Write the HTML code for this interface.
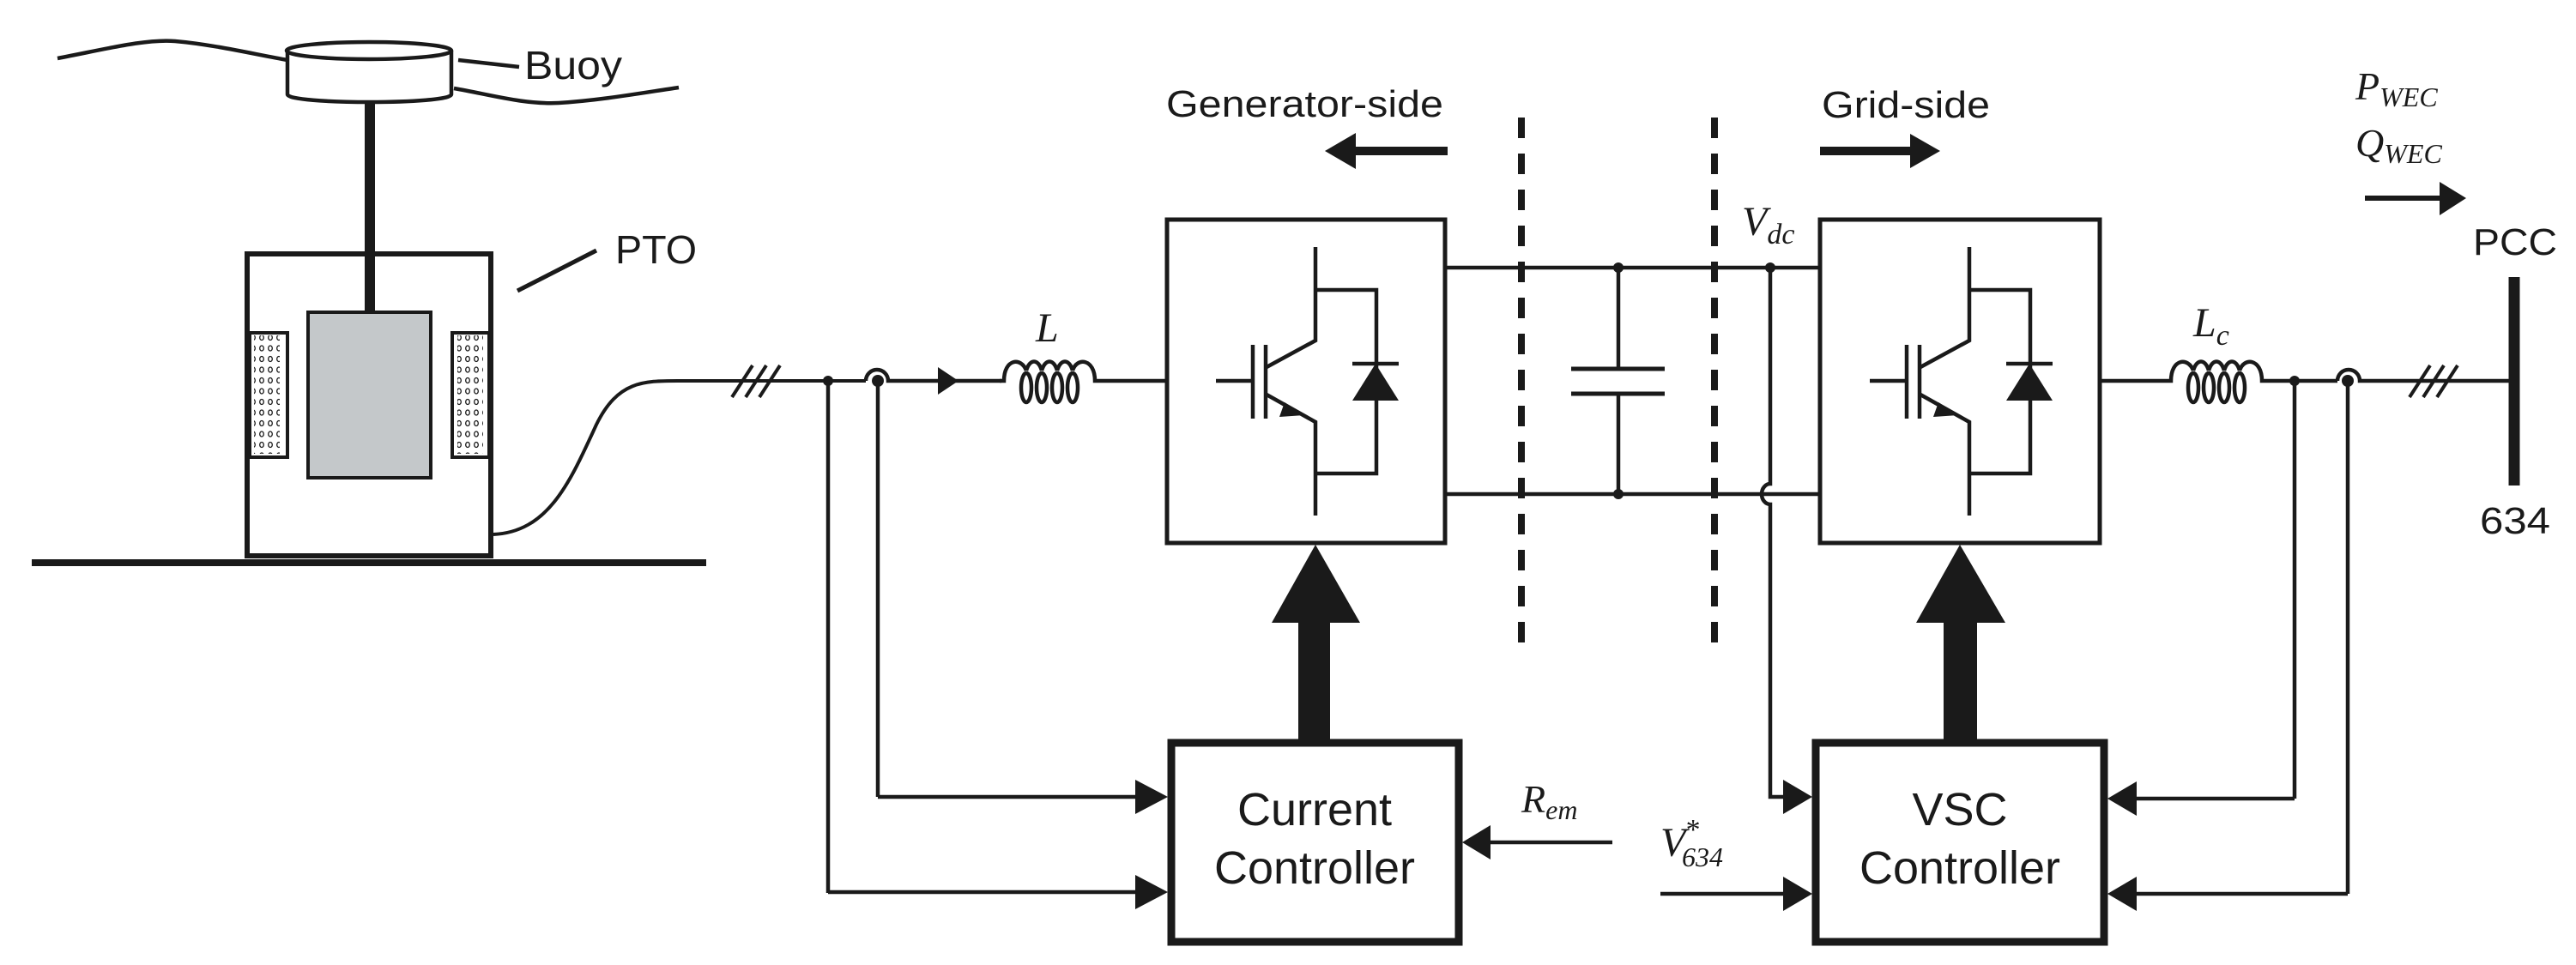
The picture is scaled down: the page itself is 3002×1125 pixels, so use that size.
<!DOCTYPE html>
<html><head><meta charset="utf-8"><style>
html,body{margin:0;padding:0;background:#fff}
svg{display:block}
text{font-family:"Liberation Sans",sans-serif;fill:#1a1a1a}
.m{font-family:"Liberation Serif",serif;font-style:italic}
</style></head><body>
<svg width="3002" height="1125" viewBox="0 0 3002 1125" xmlns="http://www.w3.org/2000/svg">
<defs>
<pattern id="pd" x="0" y="0" width="10" height="12.5" patternUnits="userSpaceOnUse"><ellipse cx="5" cy="6" rx="2.3" ry="3" fill="none" stroke="#1a1a1a" stroke-width="1.3"/></pattern>
</defs>
<g stroke="#1a1a1a" fill="none" stroke-width="4.5">
<path d="M67,68 C120,58 170,45 204,48 C250,52 300,64 335,70"/>
<path d="M529,103 C570,110 610,122 651,120 C700,117 750,108 791,102"/>
<path d="M335,59 L335,110 C335,122 526,122 526,110 L526,59" fill="#fff"/>
<ellipse cx="430" cy="59" rx="96" ry="10" fill="#fff"/>
<line x1="534" y1="70" x2="605" y2="78"/>
<line x1="431" y1="120" x2="431" y2="365" stroke-width="12"/>
<rect x="288" y="296" width="284" height="352" stroke-width="6"/>
<line x1="603" y1="339" x2="695" y2="292" stroke-width="5"/>
<rect x="359" y="364" width="143" height="193" fill="#c4c8ca" stroke-width="4"/>
<rect x="291" y="388" width="44" height="145" stroke-width="4"/>
<rect x="527" y="388" width="43" height="145" stroke-width="4"/>
<line x1="37" y1="656" x2="823" y2="656" stroke-width="8"/>
<path d="M575,623 C640,620 665,560 695,495 C720,444 750,444 790,444 L1009,444" stroke-width="4"/>
<g stroke-width="4"><line x1="853" y1="463" x2="877" y2="426"/><line x1="869" y1="463" x2="893" y2="426"/><line x1="885" y1="463" x2="909" y2="426"/></g>
<path d="M1009,444 A13,13 0 0 1 1035,444 L1167,444"/>
<line x1="965" y1="444" x2="965" y2="1041"/>
<line x1="965" y1="1040" x2="1330" y2="1040"/>
<line x1="1023" y1="444" x2="1023" y2="929"/>
<line x1="1023" y1="929" x2="1330" y2="929"/>
<path d="M1165,444 L1170,444 C1170,418 1190,416 1196,432 M1196,432 C1200,418 1210,418 1214,432 M1214,432 C1218,418 1228,418 1232,432 M1232,432 C1236,418 1246,418 1250,432 M1250,432 C1255,416 1276,418 1276,444 L1360,444"/>
<ellipse cx="1196" cy="452" rx="6" ry="17"/><ellipse cx="1214" cy="452" rx="6" ry="17"/><ellipse cx="1232" cy="452" rx="6" ry="17"/><ellipse cx="1250" cy="452" rx="6" ry="17"/>
<rect x="1360" y="256" width="324" height="377" stroke-width="5"/>
<line x1="1417" y1="444" x2="1460" y2="444"/>
<line x1="1460" y1="402" x2="1460" y2="488"/><line x1="1475" y1="402" x2="1475" y2="488"/>
<path d="M1533,288 L1533,397 L1476,428 M1476,460 L1533,492 L1533,601 M1533,338 L1604,338 L1604,552 L1533,552"/>
<line x1="1576" y1="424" x2="1630" y2="424"/>
<line x1="1684" y1="312" x2="2121" y2="312"/>
<line x1="1684" y1="576" x2="2121" y2="576"/>
<line x1="1886" y1="312" x2="1886" y2="430"/><line x1="1886" y1="459" x2="1886" y2="576"/>
<line x1="1831" y1="430" x2="1940" y2="430" stroke-width="5"/><line x1="1831" y1="459" x2="1940" y2="459" stroke-width="5"/>
<path d="M2063,312 L2063,564 A10,12 0 0 0 2063,588 L2063,929 L2104,929"/>
<line x1="1773" y1="137" x2="1773" y2="752" stroke-width="8" stroke-dasharray="24,18"/>
<line x1="1998" y1="137" x2="1998" y2="752" stroke-width="8" stroke-dasharray="24,18"/>
<rect x="2121" y="256" width="326" height="377" stroke-width="5"/>
<line x1="2179" y1="444" x2="2222" y2="444"/>
<line x1="2222" y1="402" x2="2222" y2="488"/><line x1="2237" y1="402" x2="2237" y2="488"/>
<path d="M2295,288 L2295,397 L2238,428 M2238,460 L2295,492 L2295,601 M2295,338 L2366,338 L2366,552 L2295,552"/>
<line x1="2338" y1="424" x2="2392" y2="424"/>
<path d="M2447,444 L2530,444 C2530,418 2550,416 2556,432 M2556,432 C2560,418 2570,418 2574,432 M2574,432 C2578,418 2588,418 2592,432 M2592,432 C2596,418 2606,418 2610,432 M2610,432 C2615,416 2636,418 2636,444 L2724,444"/>
<ellipse cx="2556" cy="452" rx="6" ry="17"/><ellipse cx="2574" cy="452" rx="6" ry="17"/><ellipse cx="2592" cy="452" rx="6" ry="17"/><ellipse cx="2610" cy="452" rx="6" ry="17"/>
<path d="M2724,444 A13,13 0 0 1 2750,444 L2930,444"/>
<g stroke-width="4"><line x1="2808" y1="463" x2="2832" y2="426"/><line x1="2824" y1="463" x2="2848" y2="426"/><line x1="2840" y1="463" x2="2864" y2="426"/></g>
<line x1="2930" y1="323" x2="2930" y2="566" stroke-width="13"/>
<line x1="2674" y1="444" x2="2674" y2="931"/><line x1="2674" y1="931" x2="2465" y2="931"/>
<line x1="2736" y1="444" x2="2736" y2="1042"/><line x1="2736" y1="1042" x2="2465" y2="1042"/>
<rect x="1365" y="866" width="335" height="232" stroke-width="9"/>
<rect x="2116" y="866" width="336" height="232" stroke-width="9"/>
<line x1="1879" y1="982" x2="1720" y2="982"/>
<line x1="1935" y1="1042" x2="2100" y2="1042"/>
<line x1="1575" y1="176" x2="1687" y2="176" stroke-width="10"/>
<line x1="2121" y1="176" x2="2230" y2="176" stroke-width="10"/>
<line x1="2756" y1="231" x2="2845" y2="231" stroke-width="6"/>
</g>
<g fill="#1a1a1a">
<circle cx="965" cy="444" r="6"/><circle cx="1023" cy="444" r="7"/>
<circle cx="2674" cy="444" r="6"/><circle cx="2736" cy="444" r="7"/>
<circle cx="1886" cy="312" r="6"/><circle cx="1886" cy="576" r="6"/><circle cx="2063" cy="312" r="6"/>
<polygon points="1093,428 1117,444 1093,460"/>
<polygon points="1497,469 1520,484 1491,486"/>
<polygon points="2259,469 2282,484 2253,486"/>
<polygon points="1576,467 1630,467 1603,424"/>
<polygon points="2338,467 2392,467 2365,424"/>
<polygon points="1544,176 1580,155 1580,197"/>
<polygon points="2261,176 2226,156 2226,196"/>
<polygon points="2874,231 2843,212 2843,251"/>
<rect x="1513" y="725" width="37" height="140"/><polygon points="1482,726 1585,726 1533,635"/>
<rect x="2265" y="725" width="39" height="140"/><polygon points="2233,726 2337,726 2284,635"/>
<polygon points="1361,929 1323,909 1323,949"/>
<polygon points="1361,1040 1323,1020 1323,1060"/>
<polygon points="1704,982 1737,962 1737,1002"/>
<polygon points="2112,929 2078,909 2078,949"/>
<polygon points="2112,1042 2078,1022 2078,1062"/>
<polygon points="2456,931 2490,911 2490,951"/>
<polygon points="2456,1042 2490,1022 2490,1062"/>
</g>
<rect x="296" y="391" width="30" height="138" fill="url(#pd)"/>
<rect x="533" y="391" width="30" height="138" fill="url(#pd)"/>
<text x="611" y="92" font-size="46" textLength="114" lengthAdjust="spacingAndGlyphs">Buoy</text>
<text x="717" y="307" font-size="46" textLength="95" lengthAdjust="spacingAndGlyphs">PTO</text>
<text x="1359" y="136" font-size="44" textLength="323" lengthAdjust="spacingAndGlyphs">Generator-side</text>
<text x="2123" y="137" font-size="44" textLength="196" lengthAdjust="spacingAndGlyphs">Grid-side</text>
<text x="2882" y="297" font-size="44" textLength="98" lengthAdjust="spacingAndGlyphs">PCC</text>
<text x="2890" y="622" font-size="44" textLength="82" lengthAdjust="spacingAndGlyphs">634</text>
<text x="1532" y="962" font-size="54" text-anchor="middle">Current</text>
<text x="1532" y="1030" font-size="54" text-anchor="middle">Controller</text>
<text x="2284" y="962" font-size="54" text-anchor="middle">VSC</text>
<text x="2284" y="1030" font-size="54" text-anchor="middle">Controller</text>
<text class="m" x="1207" y="398" font-size="48">L</text>
<text class="m" x="2556" y="392" font-size="48">L<tspan font-size="34" dy="10">c</tspan></text>
<text class="m" x="2030" y="274" font-size="48">V<tspan font-size="34" dy="10">dc</tspan></text>
<text class="m" x="2745" y="116" font-size="46">P<tspan font-size="32" dy="8">WEC</tspan></text>
<text class="m" x="2745" y="182" font-size="46">Q<tspan font-size="32" dy="8">WEC</tspan></text>
<text class="m" x="1773" y="947" font-size="46">R<tspan font-size="32" dy="8">em</tspan></text>
<text class="m" x="1935" y="998" font-size="48">V</text>
<text class="m" x="1963" y="978" font-size="34">*</text>
<text class="m" x="1960" y="1010" font-size="32">634</text>
</svg>
</body></html>
